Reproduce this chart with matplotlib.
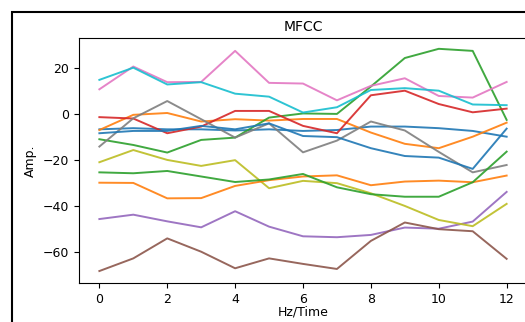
import matplotlib
matplotlib.use("Agg")
import matplotlib.pyplot as plt
from matplotlib.patches import Rectangle

frames = list(range(13))

blue_a   = [-6.7, -6.2, -6.7, -6.7, -7.2, -6.7, -7.4, -7.0, -5.5, -5.5, -6.2, -7.4, -9.9]
orange_a = [-7.0, -0.4, 0.4, -3.3, -2.3, -2.9, -2.2, -2.2, -8.1, -13.0, -14.9, -9.9, -3.8]
green_a  = [-11.0, -13.5, -16.8, -11.3, -10.3, -1.6, 0.2, 0.0, 11.9, 24.3, 28.3, 27.4, -2.6]
red      = [-1.4, -2.0, -8.4, -5.5, 1.3, 1.3, -5.2, -8.4, 8.1, 10.1, 4.3, 0.7, 2.3]
purple   = [-45.7, -43.8, -46.7, -49.3, -42.3, -49.0, -53.2, -53.6, -52.6, -49.4, -49.9, -46.8, -33.9]
brown    = [-68.3, -62.8, -54.1, -59.9, -67.1, -62.8, -65.2, -67.4, -55.2, -47.2, -50.1, -51.0, -63.0]
pink     = [10.7, 20.6, 13.8, 13.9, 27.4, 13.5, 13.2, 5.9, 12.2, 15.5, 7.8, 7.1, 13.9]
gray     = [-14.2, -1.9, 5.6, -2.3, -10.3, -4.1, -16.7, -11.6, -3.3, -7.2, -16.5, -25.4, -22.2]
olive    = [-21.0, -15.7, -20.0, -22.6, -20.1, -32.3, -29.1, -30.1, -34.5, -40.0, -46.1, -48.8, -39.1]
cyan     = [14.8, 20.1, 12.8, 13.8, 8.8, 7.5, 0.6, 2.9, 10.4, 11.2, 10.1, 4.1, 3.8]
blue_b   = [-8.4, -7.4, -7.4, -5.2, -6.7, -4.1, -9.6, -10.1, -14.9, -18.3, -19.0, -23.9, -6.4]
orange_b = [-29.9, -30.0, -36.7, -36.6, -31.3, -28.8, -27.2, -26.7, -31.0, -29.4, -29.0, -29.7, -26.8]
green_b  = [-25.4, -25.8, -24.8, -27.2, -29.6, -28.5, -26.1, -31.9, -34.9, -36.0, -36.0, -29.7, -16.4]

series = [blue_a, orange_a, green_a, red, purple, brown, pink, gray, olive, cyan,
          blue_b, orange_b, green_b]

xticks = [0, 2, 4, 6, 8, 10, 12]
yticks = [20, 0, -20, -40, -60]

fig = plt.figure(figsize=(5.25, 3.22), dpi=100)
ax = fig.add_axes([79/525, 39/322, 448/525, 245/322])

for s in series:
    ax.plot(frames, s, linewidth=1.4, alpha=0.9)

ax.set_xlim(-0.6, 12.6)
ax.set_ylim(-73.5, 33.0)
ax.set_xticks(xticks)
ax.set_yticks(yticks)
ax.tick_params(labelsize=9)
ax.set_title("MFCC", fontsize=10, pad=5)
ax.set_xlabel("Hz/Time", fontsize=9, labelpad=0)
ax.set_ylabel("Amp.", fontsize=9, labelpad=4)

border = Rectangle((12/525, -0.2), 2.0, 1.2 - 12/322, transform=fig.transFigure,
                   fill=False, edgecolor="black", linewidth=1.5, clip_on=False)
fig.patches.append(border)

fig.savefig("out.png", dpi=100)
